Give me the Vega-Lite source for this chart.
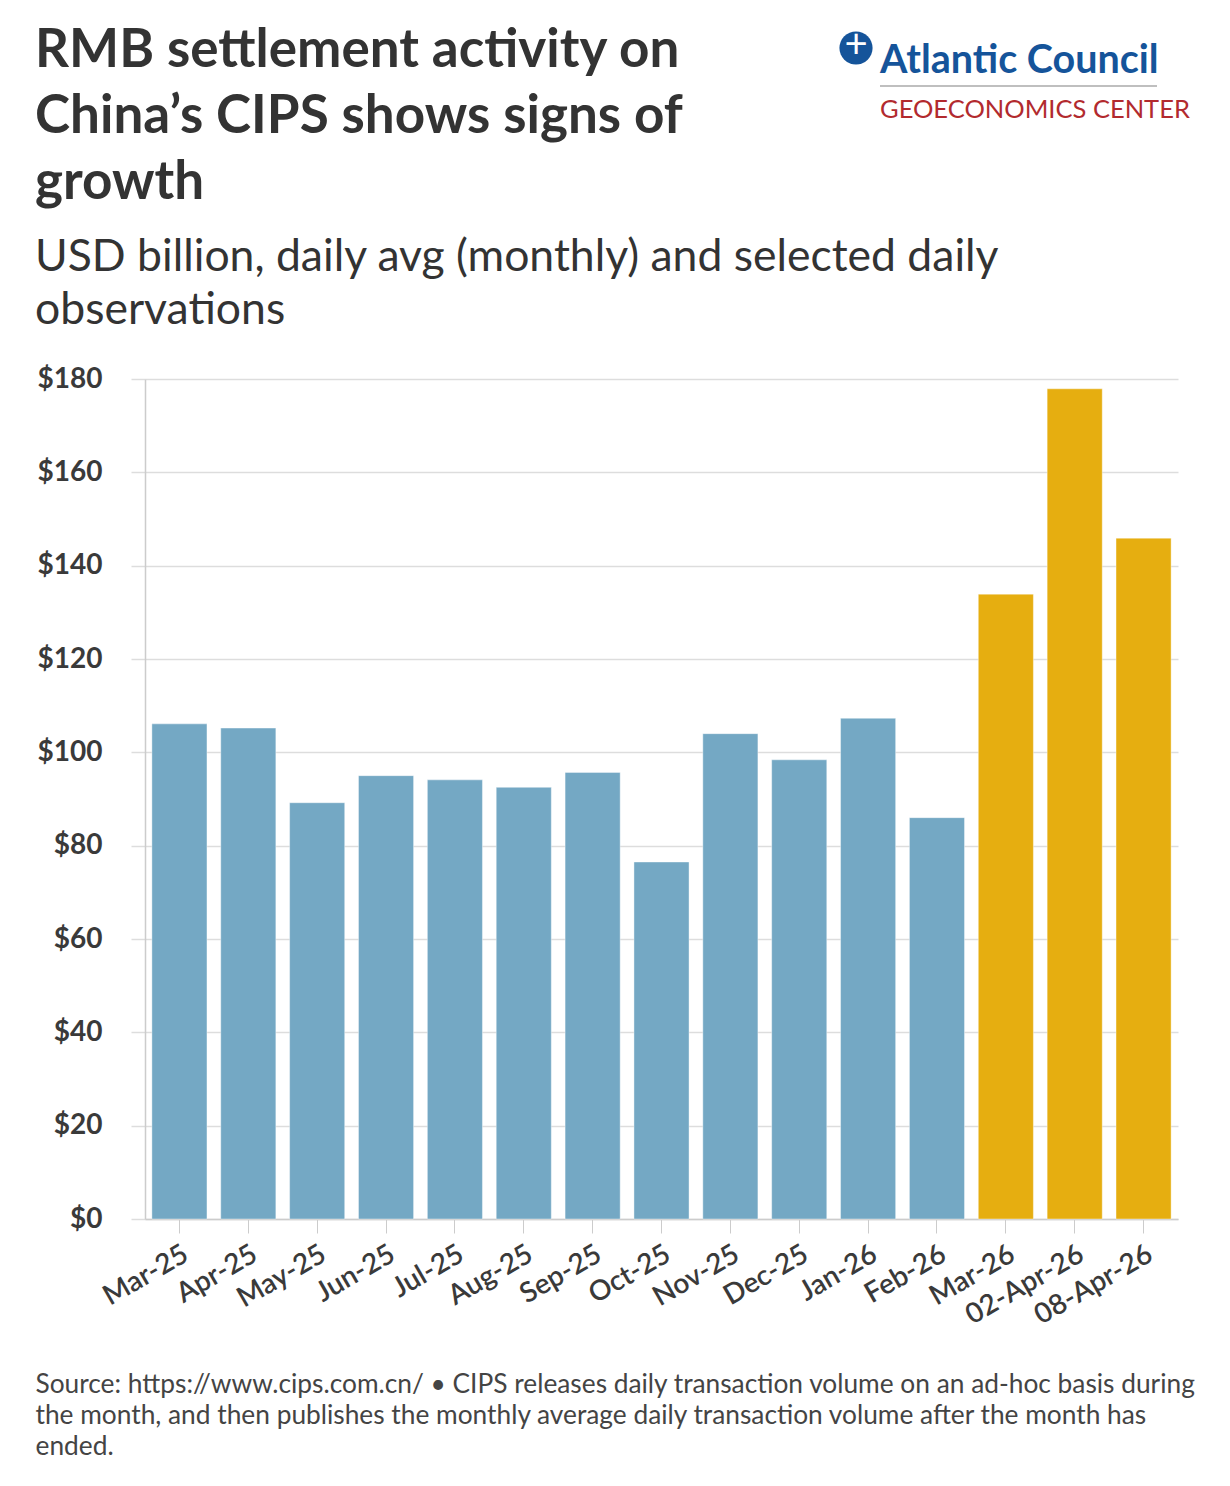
{
  "$schema": "https://vega.github.io/schema/vega-lite/v6.json",
  "autosize": {"type": "none"},
  "width": 1033,
  "height": 840,
  "padding": {"left": 145, "top": 379, "right": 52, "bottom": 267},
  "background": "white",
  "config": {
    "font": "Lato",
    "view": {"stroke": null}
  },
  "title": {
    "text": ["RMB settlement activity on", "China’s CIPS shows signs of", "growth"],
    "subtitle": ["USD billion, daily avg (monthly) and selected daily", "observations"],
    "anchor": "start",
    "frame": "group",
    "dx": -110,
    "offset": -306,
    "font": "Lato",
    "fontSize": 53,
    "fontWeight": "bold",
    "color": "#333333",
    "lineHeight": 66,
    "subtitleFont": "Lato",
    "subtitleFontSize": 44.5,
    "subtitleFontWeight": "normal",
    "subtitleColor": "#333333",
    "subtitleLineHeight": 53,
    "subtitlePadding": 26
  },
  "data": {
    "values": [
      {"period": "Mar-25", "value": 106.1, "group": "earlier"},
      {"period": "Apr-25", "value": 105.2, "group": "earlier"},
      {"period": "May-25", "value": 89.2, "group": "earlier"},
      {"period": "Jun-25", "value": 95.0, "group": "earlier"},
      {"period": "Jul-25", "value": 94.1, "group": "earlier"},
      {"period": "Aug-25", "value": 92.5, "group": "earlier"},
      {"period": "Sep-25", "value": 95.7, "group": "earlier"},
      {"period": "Oct-25", "value": 76.5, "group": "earlier"},
      {"period": "Nov-25", "value": 104.0, "group": "earlier"},
      {"period": "Dec-25", "value": 98.4, "group": "earlier"},
      {"period": "Jan-26", "value": 107.3, "group": "earlier"},
      {"period": "Feb-26", "value": 86.0, "group": "earlier"},
      {"period": "Mar-26", "value": 133.9, "group": "recent"},
      {"period": "02-Apr-26", "value": 177.9, "group": "recent"},
      {"period": "08-Apr-26", "value": 145.9, "group": "recent"}
    ]
  },
  "layer": [
    {
      "mark": {"type": "bar", "stroke": "#ffffff", "strokeOpacity": 0.4, "strokeWidth": 1},
      "encoding": {
        "x": {
          "field": "period",
          "type": "ordinal",
          "sort": null,
          "scale": {"paddingInner": 0.2, "paddingOuter": 0.1},
          "axis": {
            "title": [
              "Source: https://www.cips.com.cn/ • CIPS releases daily transaction volume on an ad-hoc basis during",
              "the month, and then publishes the monthly average daily transaction volume after the month has",
              "ended."
            ],
            "titleAnchor": "start",
            "titleAlign": "left",
            "titleBaseline": "alphabetic",
            "titleX": -110,
            "titleY": 173,
            "titleFont": "Lato",
            "titleFontSize": 26.3,
            "titleFontWeight": "normal",
            "titleColor": "#444444",
            "titleLineHeight": 31,
            "labelAngle": -30,
            "labelAlign": "right",
            "labelBaseline": "top",
            "labelFontSize": 28,
            "labelFontWeight": 600,
            "labelColor": "#3a3a3a",
            "labelPadding": 7,
            "tickSize": 14,
            "tickColor": "#cccccc",
            "domainColor": "#cccccc",
            "domainWidth": 1.5
          }
        },
        "y": {
          "field": "value",
          "type": "quantitative",
          "scale": {"domain": [0, 180]},
          "axis": {
            "title": null,
            "values": [0, 20, 40, 60, 80, 100, 120, 140, 160, 180],
            "format": "$d",
            "labelFontSize": 28,
            "labelFontWeight": "bold",
            "labelColor": "#3a3a3a",
            "labelPadding": 29,
            "tickSize": 14,
            "tickColor": "#dddddd",
            "tickWidth": 1.5,
            "grid": true,
            "gridColor": "#dddddd",
            "gridWidth": 1.5,
            "domain": true,
            "domainColor": "#cccccc",
            "domainWidth": 1.5
          }
        },
        "color": {
          "field": "group",
          "type": "nominal",
          "scale": {"domain": ["earlier", "recent"], "range": ["#74a8c4", "#e6ae10"]},
          "legend": null
        }
      }
    },
    {
      "data": {"values": [{"name": "logo"}]},
      "mark": {"type": "point", "shape": "circle", "filled": true, "color": "#15549a", "size": 1100, "opacity": 1},
      "encoding": {"x": {"value": 711}, "y": {"value": -331}}
    },
    {
      "data": {"values": [{"name": "logo"}]},
      "mark": {"type": "text", "text": "+", "font": "Lato", "fontSize": 40, "color": "#ffffff", "align": "center", "baseline": "middle"},
      "encoding": {"x": {"value": 711}, "y": {"value": -333}}
    },
    {
      "data": {"values": [{"name": "Atlantic Council"}]},
      "mark": {"type": "text", "font": "Lato", "fontSize": 39.5, "fontWeight": "bold", "color": "#15549a", "align": "left", "baseline": "alphabetic"},
      "encoding": {"text": {"field": "name"}, "x": {"value": 735}, "y": {"value": -306}}
    },
    {
      "data": {"values": [{"name": "logo"}]},
      "mark": {"type": "rule", "color": "#aaaaaa", "strokeWidth": 1.5},
      "encoding": {"x": {"value": 735}, "x2": {"value": 1012}, "y": {"value": -293}}
    },
    {
      "data": {"values": [{"name": "GEOECONOMICS CENTER"}]},
      "mark": {"type": "text", "font": "Lato", "fontSize": 25.5, "color": "#b22a2e", "align": "left", "baseline": "alphabetic", "letterSpacing": 0.6},
      "encoding": {"text": {"field": "name"}, "x": {"value": 735}, "y": {"value": -261}}
    }
  ]
}
